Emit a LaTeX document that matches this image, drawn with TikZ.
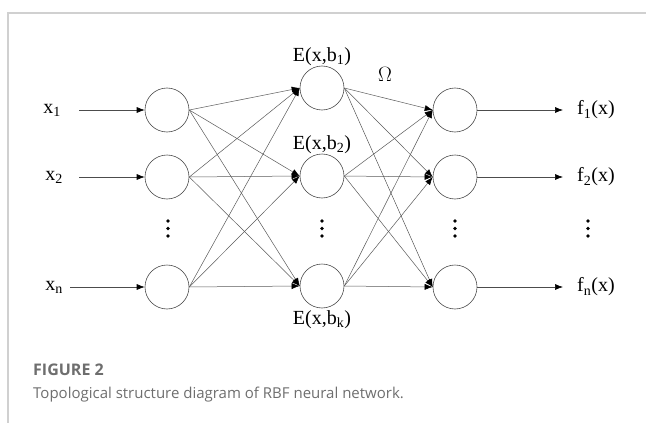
\documentclass[tikz,border=0pt]{standalone}
\usepackage{fontspec}
\setmainfont{Liberation Serif}
\newfontfamily\capfont{Open Sans}
\usetikzlibrary{arrows.meta}
\definecolor{capgray}{HTML}{6E6E6E}
\definecolor{framegray}{HTML}{D0D0D0}
\begin{document}
\begin{tikzpicture}[x=1pt,y=-1pt,
  neuron/.style={draw=black!70,line width=0.6pt,circle,minimum size=44pt,inner sep=0pt},
  link/.style={draw=black!65,line width=0.5pt,-{Latex[length=8pt,width=6pt,black]}},
  iolink/.style={draw=black!70,line width=0.6pt,-{Latex[length=8pt,width=6pt,black]}},
  lbl/.style={font=\fontsize{20}{22}\selectfont,inner sep=0pt},
  dot/.style={fill=black,circle,inner sep=0pt,minimum size=3.6pt}]
\useasboundingbox (0,0) rectangle (646,423);
\draw[framegray,line width=1.2pt] (8,423) -- (8,13) -- (646,13);
% neurons
\node[neuron] (a1) at (167,110) {};
\node[neuron] (a2) at (167,177) {};
\node[neuron] (a3) at (167,287) {};
\node[neuron] (b1) at (322,88) {};
\node[neuron] (b2) at (322,176) {};
\node[neuron] (b3) at (322,286) {};
\node[neuron] (c1) at (455,110) {};
\node[neuron] (c2) at (455,177) {};
\node[neuron] (c3) at (455,287) {};
% dots
\foreach \dx [count=\k] in {168,322,455,588}{
  \foreach \dy in {221,228.5,236}{
    \node[dot] (v\k-\dy) at (\dx,\dy) {};
  }
}
% labels
\node[lbl] (x1) at (52,110) {x\textsubscript{1}};
\node[lbl] (x2) at (54,177) {x\textsubscript{2}};
\node[lbl] (xn) at (54,287) {x\textsubscript{n}};
\node[lbl,anchor=west] (f1) at (577,110) {f\textsubscript{1}(x)};
\node[lbl,anchor=west] (f2) at (577,177) {f\textsubscript{2}(x)};
\node[lbl,anchor=west] (fn) at (577,287) {f\textsubscript{n}(x)};
\node[lbl] (e1) at (322,57) {E(x,b\textsubscript{1})};
\node[lbl] (e2) at (322,145) {E(x,b\textsubscript{2})};
\node[lbl] (ek) at (322,320) {E(x,b\textsubscript{k})};
\node[lbl] (om) at (385,74) {$\Omega$};
% input arrows
\coordinate (s1) at (79,110);
\coordinate (s2) at (79,177);
\coordinate (s3) at (70,287);
\draw[iolink] (s1) -- (a1.west);
\draw[iolink] (s2) -- (a2.west);
\draw[iolink] (s3) -- (a3.west);
% output arrows
\coordinate (t1) at (563,110);
\coordinate (t2) at (563,177);
\coordinate (t3) at (563,287);
\draw[iolink] (c1.east) -- (t1);
\draw[iolink] (c2.east) -- (t2);
\draw[iolink] (c3.east) -- (t3);
% connections
\foreach \i in {1,2,3}{
  \foreach \j in {1,2,3}{
    \draw[link] (a\i.east) -- (b\j.west);
    \draw[link] (b\i.east) -- (c\j.west);
  }
}
% caption
\node[anchor=west,inner sep=0pt,text=capgray,font=\capfont\fontsize{16}{18}\selectfont\bfseries] (cap1) at (33,370) {FIGURE 2};
\node[anchor=west,inner sep=0pt,text=capgray,font=\capfont\fontsize{15}{18}\selectfont] (cap2) at (33,395) {Topological structure diagram of RBF neural network.};
\end{tikzpicture}
\end{document}
